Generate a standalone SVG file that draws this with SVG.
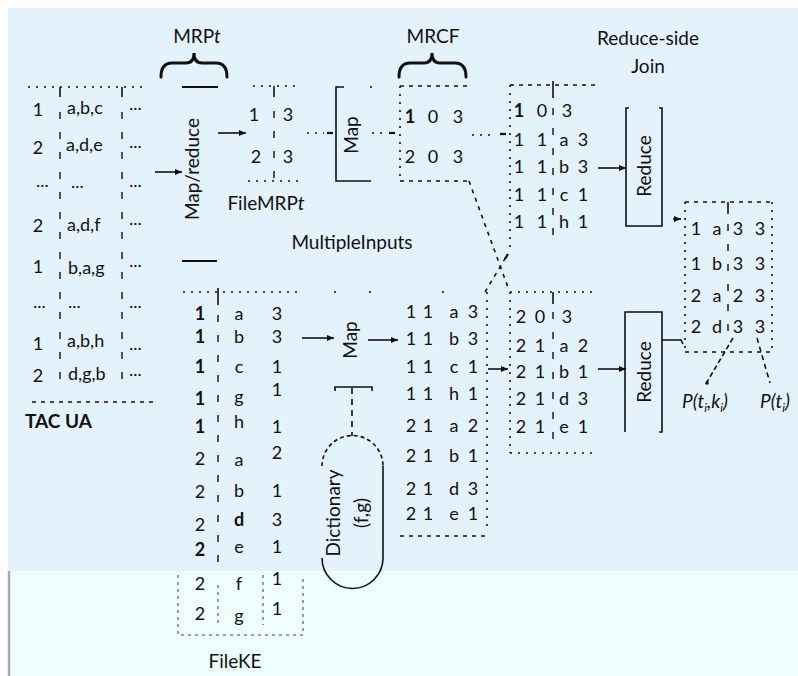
<svg xmlns="http://www.w3.org/2000/svg" width="798" height="676" viewBox="0 0 798 676">
  <defs>
    <marker id="arrow" markerUnits="userSpaceOnUse" markerWidth="8" markerHeight="7" refX="7" refY="3.5" orient="auto">
      <path d="M0,0.5 L7,3.5 L0,6.5 z" fill="#111"/>
    </marker>
    <style>
      text { font-family: Lato, "Liberation Sans", sans-serif; fill: #111; }
      .lbl { font-size: 19px; }
      .cell { font-size: 18px; text-anchor: middle; }
      .cl { font-size: 18px; }
      .b { font-weight: bold; }
      .rot { font-size: 19px; text-anchor: middle; }
      .solid { stroke: #111; stroke-width: 1.6; fill: none; }
      .thick { stroke: #111; stroke-width: 2.2; fill: none; }
      .dot { stroke: #111; stroke-width: 1.6; fill: none; stroke-dasharray: 2 6; }
      .dash { stroke: #111; stroke-width: 1.6; fill: none; stroke-dasharray: 4 5; }
      .vdash { stroke: #111; stroke-width: 1.4; fill: none; stroke-dasharray: 7 13; }
      .gray { stroke: #7d8684; stroke-width: 1.6; fill: none; stroke-dasharray: 3 4; }
      .brace { stroke: #111; stroke-width: 3; fill: none; stroke-linecap: round; }
    </style>
  </defs>

  <!-- backdrop -->
  <rect x="0" y="0" width="798" height="676" fill="#ffffff"/>
  <rect x="8" y="8" width="790" height="563" fill="#e4f2fc"/>
  <rect x="8" y="571" width="790" height="105" fill="#effefe"/>
  <line x1="9" y1="571" x2="9" y2="676" stroke="#a3aeab" stroke-width="2.5"/>

  <!-- headings -->
  <g id="headings">
    <text class="lbl" x="197" y="43" text-anchor="middle">MRP<tspan font-style="italic">t</tspan></text>
    <path class="brace" d="M161,77 Q161,63 172,63 L186,63 Q194,63 194,53 Q194,63 202,63 L216,63 Q227,63 227,77"/>
    <text class="lbl" x="433" y="43" text-anchor="middle">MRCF</text>
    <path class="brace" d="M399,77 Q399,63 410,63 L424,63 Q432,63 432,53 Q432,63 440,63 L455,63 Q466,63 466,77"/>
    <text class="lbl" x="648" y="45" text-anchor="middle">Reduce-side</text>
    <text class="lbl" x="648" y="73" text-anchor="middle">Join</text>
    <text class="lbl" x="352" y="249" text-anchor="middle">MultipleInputs</text>
  </g>

  <!-- input table TAC UA -->
  <g id="tac-ua">
    <line class="dot" x1="28" y1="87" x2="148" y2="87"/>
    <line class="solid" x1="60" y1="87" x2="60" y2="97"/>
    <line class="solid" x1="122" y1="87" x2="122" y2="97"/>
    <line class="vdash" x1="60" y1="112" x2="60" y2="392"/>
    <line class="vdash" x1="122" y1="112" x2="122" y2="392"/>
    <line class="dash" x1="32" y1="402" x2="154" y2="402"/>
    <text class="cell" x="38" y="116">1</text><text class="cl" x="67" y="114">a,b,c</text><text class="cl" x="129" y="110">...</text>
    <text class="cell" x="38" y="154">2</text><text class="cl" x="66" y="151">a,d,e</text><text class="cl" x="129" y="148">...</text>
    <text class="cl" x="36" y="187">...</text><text class="cl" x="71" y="188">...</text><text class="cl" x="129" y="187">...</text>
    <text class="cell" x="38" y="232">2</text><text class="cl" x="67" y="231">a,d,f</text><text class="cl" x="129" y="225">...</text>
    <text class="cell" x="38" y="273">1</text><text class="cl" x="68" y="274">b,a,g</text><text class="cl" x="129" y="267">...</text>
    <text class="cl" x="33" y="308">...</text><text class="cl" x="68" y="308">...</text><text class="cl" x="129" y="308">...</text>
    <text class="cell" x="38" y="350">1</text><text class="cl" x="67" y="347">a,b,h</text><text class="cl" x="129" y="350">...</text>
    <text class="cell" x="38" y="382">2</text><text class="cl" x="68" y="380">d,g,b</text><text class="cl" x="129" y="376">...</text>
    <text class="lbl b" x="25" y="428">TAC UA</text>
  </g>

  <!-- Map/reduce job -->
  <g id="map-reduce">
    <line class="thick" x1="182" y1="87" x2="218" y2="87"/>
    <line class="thick" x1="182" y1="261" x2="217" y2="261"/>
    <text class="rot" font-size="20" transform="translate(199,169) rotate(-90)">Map/reduce</text>
  </g>

  <!-- FileMRPt -->
  <g id="file-mrpt">
    <line class="dot" x1="253" y1="86" x2="301" y2="86"/>
    <line class="solid" x1="274" y1="86" x2="274" y2="97"/>
    <line class="vdash" x1="274" y1="111" x2="274" y2="181"/>
    <line class="dot" x1="248" y1="181" x2="304" y2="181"/>
    <text class="cell" x="254" y="121">1</text><text class="cell" x="288" y="121">3</text>
    <text class="cell" x="256" y="163">2</text><text class="cell" x="288" y="163">3</text>
    <text class="lbl" x="266" y="210" text-anchor="middle">FileMRP<tspan font-style="italic">t</tspan></text>
  </g>

  <!-- first Map -->
  <g id="map-1">
    <path class="solid" d="M344,87 L336,87 L336,181 L371,181"/>
    <circle cx="371" cy="87" r="1" fill="#111"/>
    <text class="rot" transform="translate(358,135) rotate(-90)">Map</text>
  </g>

  <!-- MRCF -->
  <g id="mrcf">
    <line class="dash" x1="400" y1="86" x2="470" y2="86"/>
    <line class="dot" x1="400" y1="86" x2="400" y2="181"/>
    <line class="dash" x1="400" y1="181" x2="470" y2="181"/>
    <text class="cell b" x="410" y="123">1</text><text class="cell" x="433" y="123">0</text><text class="cell" x="458" y="123">3</text>
    <text class="cell" x="410" y="163">2</text><text class="cell" x="433" y="163">0</text><text class="cell" x="458" y="163">3</text>
  </g>

  <!-- reduce-side input, key 1 -->
  <g id="join-table-1">
    <line class="dash" x1="510" y1="85" x2="597" y2="85"/>
    <line class="dot" x1="510" y1="85" x2="510" y2="249"/>
    <line class="solid" x1="553" y1="81" x2="553" y2="98"/>
    <line class="vdash" x1="553" y1="108" x2="553" y2="248"/>
    <text class="cell b" x="519" y="117">1</text><text class="cell" x="542" y="117">0</text><text class="cell" x="567" y="117">3</text>
    <text class="cell" x="519" y="146">1</text><text class="cell" x="542" y="146">1</text><text class="cell" x="564" y="146">a</text><text class="cell" x="583" y="146">3</text>
    <text class="cell" x="519" y="173">1</text><text class="cell" x="542" y="173">1</text><text class="cell" x="564" y="173">b</text><text class="cell" x="583" y="173">3</text>
    <text class="cell" x="519" y="201">1</text><text class="cell" x="542" y="201">1</text><text class="cell" x="564" y="201">c</text><text class="cell" x="583" y="201">1</text>
    <text class="cell" x="519" y="228">1</text><text class="cell" x="542" y="228">1</text><text class="cell" x="564" y="228">h</text><text class="cell" x="583" y="228">1</text>
  </g>

  <!-- first Reduce -->
  <g id="reduce-1">
    <path class="solid" d="M629,108 L626,108 L626,226 L662,226 L662,108 L659,108"/>
    <text class="rot" transform="translate(651,166) rotate(-90)">Reduce</text>
  </g>

  <!-- joined result -->
  <g id="result">
    <line class="dash" x1="685" y1="202" x2="772" y2="202"/>
    <line class="dot" x1="685" y1="202" x2="685" y2="352"/>
    <line class="dot" x1="772" y1="202" x2="772" y2="352"/>
    <line class="dash" x1="685" y1="352" x2="772" y2="352"/>
    <line class="solid" x1="728" y1="202" x2="728" y2="214"/>
    <line class="vdash" x1="728" y1="224" x2="728" y2="340"/>
    <text class="cell" x="696" y="235">1</text><text class="cell" x="717" y="235">a</text><text class="cell" x="738" y="235">3</text><text class="cell" x="760" y="235">3</text>
    <text class="cell" x="696" y="270">1</text><text class="cell" x="717" y="270">b</text><text class="cell" x="738" y="270">3</text><text class="cell" x="760" y="270">3</text>
    <text class="cell" x="696" y="302">2</text><text class="cell" x="717" y="302">a</text><text class="cell" x="738" y="302">2</text><text class="cell" x="760" y="302">3</text>
    <text class="cell" x="696" y="333">2</text><text class="cell" x="717" y="333">d</text><text class="cell" x="738" y="333">3</text><text class="cell" x="760" y="333">3</text>
    <text class="lbl" x="682" y="408" font-style="italic">P(t<tspan font-size="12" dy="4">i</tspan><tspan dy="-4">,k</tspan><tspan font-size="12" dy="4">i</tspan><tspan dy="-4">)</tspan></text>
    <text class="lbl" x="760" y="408" font-style="italic">P(t<tspan font-size="12" dy="4">i</tspan><tspan dy="-4">)</tspan></text>
  </g>

  <!-- FileKE -->
  <g id="file-ke">
    <line class="dot" x1="183" y1="292" x2="302" y2="292"/>
    <line class="solid" x1="218" y1="288" x2="218" y2="305"/>
    <line class="vdash" x1="218" y1="315" x2="218" y2="572"/>
    <text class="cell b" x="200" y="320">1</text><text class="cell" x="239" y="320">a</text><text class="cell" x="277" y="320">3</text>
    <text class="cell b" x="200" y="343">1</text><text class="cell" x="239" y="343">b</text><text class="cell" x="277" y="343">3</text>
    <text class="cell b" x="200" y="373">1</text><text class="cell" x="239" y="373">c</text><text class="cell" x="277" y="373">1</text>
    <text class="cell b" x="200" y="405">1</text><text class="cell" x="239" y="403">g</text><text class="cell" x="277" y="396">1</text>
    <text class="cell b" x="200" y="433">1</text><text class="cell" x="239" y="428">h</text><text class="cell" x="277" y="433">1</text>
    <text class="cell" x="200" y="465">2</text><text class="cell" x="239" y="466">a</text><text class="cell" x="277" y="459">2</text>
    <text class="cell" x="200" y="498">2</text><text class="cell" x="239" y="497">b</text><text class="cell" x="277" y="497">1</text>
    <text class="cell" x="200" y="531">2</text><text class="cell b" x="239" y="526">d</text><text class="cell" x="277" y="526">3</text>
    <text class="cell b" x="200" y="556">2</text><text class="cell" x="239" y="553">e</text><text class="cell" x="277" y="553">1</text>
    <text class="cell" x="200" y="590">2</text><text class="cell" x="239" y="590">f</text><text class="cell" x="277" y="585">1</text>
    <text class="cell" x="200" y="620">2</text><text class="cell" x="239" y="622">g</text><text class="cell" x="277" y="615">1</text>
    <path class="gray" d="M178,575 L178,635 L303,635 L303,577"/>
    <line class="gray" x1="218" y1="585" x2="218" y2="625" stroke-dasharray="8 10"/>
    <line class="gray" x1="263" y1="575" x2="263" y2="625" stroke-dasharray="8 10"/>
    <text class="lbl" x="235" y="668" text-anchor="middle">FileKE</text>
  </g>

  <!-- second Map -->
  <g id="map-2">
    <circle cx="335" cy="292" r="1" fill="#111"/>
    <circle cx="370" cy="292" r="1" fill="#111"/>
    <path class="solid" d="M335,391 L335,387 L372,387 L372,391"/>
    <text class="rot" transform="translate(357,340) rotate(-90)">Map</text>
  </g>

  <!-- Dictionary -->
  <g id="dictionary">
    <path class="solid" stroke-dasharray="4 3" d="M322,466 A30.5,30.5 0 0 1 383,466"/>
    <line class="solid" x1="383" y1="466" x2="383" y2="558"/>
    <path class="solid" d="M322,558 A30.5,30.5 0 0 0 383,558"/>
    <text class="rot" transform="translate(340,513) rotate(-90)">Dictionary</text>
    <text class="rot" transform="translate(368,513) rotate(-90)">(f,g)</text>
  </g>

  <!-- map output keyed by (t, key) -->
  <g id="map-output">
    <circle cx="443" cy="292" r="1" fill="#111"/>
    <line class="dot" x1="487" y1="292" x2="487" y2="528"/>
    <line class="dash" x1="400" y1="536" x2="488" y2="536"/>
    <text class="cell" x="411" y="318">1</text><text class="cell" x="428" y="318">1</text><text class="cell" x="454" y="318">a</text><text class="cell" x="473" y="318">3</text>
    <text class="cell" x="411" y="345">1</text><text class="cell" x="428" y="345">1</text><text class="cell" x="454" y="345">b</text><text class="cell" x="473" y="345">3</text>
    <text class="cell" x="411" y="373">1</text><text class="cell" x="428" y="373">1</text><text class="cell" x="454" y="373">c</text><text class="cell" x="473" y="373">1</text>
    <text class="cell" x="411" y="400">1</text><text class="cell" x="428" y="400">1</text><text class="cell" x="454" y="400">h</text><text class="cell" x="473" y="400">1</text>
    <text class="cell" x="411" y="432">2</text><text class="cell" x="428" y="432">1</text><text class="cell" x="454" y="432">a</text><text class="cell" x="473" y="432">2</text>
    <text class="cell" x="411" y="462">2</text><text class="cell" x="428" y="462">1</text><text class="cell" x="454" y="462">b</text><text class="cell" x="473" y="462">1</text>
    <text class="cell" x="411" y="495">2</text><text class="cell" x="428" y="495">1</text><text class="cell" x="454" y="495">d</text><text class="cell" x="473" y="495">3</text>
    <text class="cell" x="411" y="520">2</text><text class="cell" x="428" y="520">1</text><text class="cell" x="454" y="520">e</text><text class="cell" x="473" y="520">1</text>
  </g>

  <!-- reduce-side input, key 2 -->
  <g id="join-table-2">
    <line class="dot" x1="510" y1="292" x2="593" y2="292"/>
    <line class="dot" x1="510" y1="292" x2="510" y2="453"/>
    <line class="dot" x1="510" y1="453" x2="593" y2="453"/>
    <line class="solid" x1="553" y1="292" x2="553" y2="304"/>
    <line class="vdash" x1="553" y1="312" x2="553" y2="445"/>
    <text class="cell" x="521" y="323">2</text><text class="cell" x="540" y="323">0</text><text class="cell" x="567" y="323">3</text>
    <text class="cell" x="521" y="352">2</text><text class="cell" x="540" y="352">1</text><text class="cell" x="564" y="352">a</text><text class="cell" x="583" y="352">2</text>
    <text class="cell" x="521" y="378">2</text><text class="cell" x="540" y="378">1</text><text class="cell" x="564" y="378">b</text><text class="cell" x="583" y="378">1</text>
    <text class="cell" x="521" y="405">2</text><text class="cell" x="540" y="405">1</text><text class="cell" x="564" y="405">d</text><text class="cell" x="583" y="405">3</text>
    <text class="cell" x="521" y="433">2</text><text class="cell" x="540" y="433">1</text><text class="cell" x="564" y="433">e</text><text class="cell" x="583" y="433">1</text>
  </g>

  <!-- second Reduce -->
  <g id="reduce-2">
    <path class="solid" d="M625,432 L625,312 L662,312 L662,432 L659,432"/>
    <text class="rot" transform="translate(651,372) rotate(-90)">Reduce</text>
  </g>

  <!-- connectors -->
  <g id="connectors">
    <line class="solid" x1="155" y1="172" x2="182" y2="172" marker-end="url(#arrow)"/>
    <line class="solid" x1="218" y1="133" x2="246" y2="133" marker-end="url(#arrow)"/>
    <line class="dot" x1="307" y1="133" x2="324" y2="133"/>
    <line class="thick" x1="327" y1="133" x2="333" y2="133"/>
    <line class="dot" x1="372" y1="133" x2="386" y2="133"/>
    <line class="thick" x1="389" y1="133" x2="395" y2="133"/>
    <line class="dot" x1="472" y1="135" x2="496" y2="135"/>
    <line class="thick" x1="500" y1="134" x2="506" y2="134"/>
    <line class="dash" x1="469" y1="181" x2="509" y2="290"/>
    <line class="dash" x1="485" y1="292" x2="506" y2="257"/>
    <line class="thick" x1="505" y1="259" x2="508" y2="254"/>
    <line class="solid" x1="598" y1="168" x2="626" y2="168" marker-end="url(#arrow)"/>
    <line class="solid" x1="673" y1="219" x2="681" y2="219" marker-end="url(#arrow)"/>
    <path class="solid" d="M662,340 L681,340 L683,344"/>
    <line class="solid" x1="302" y1="338" x2="334" y2="338" marker-end="url(#arrow)"/>
    <line class="solid" x1="368" y1="340" x2="398" y2="340" marker-end="url(#arrow)"/>
    <line class="solid" stroke-dasharray="6 5" x1="352" y1="388" x2="352" y2="436"/>
    <line class="solid" x1="488" y1="369" x2="508" y2="369" marker-end="url(#arrow)"/>
    <line class="solid" x1="598" y1="369" x2="626" y2="369" marker-end="url(#arrow)"/>
    <line class="solid" stroke-dasharray="5 3" x1="733" y1="338" x2="707" y2="382"/>
    <circle cx="707" cy="383" r="1.8" fill="#111"/>
    <line class="solid" stroke-dasharray="5 4" x1="757" y1="338" x2="770" y2="383"/>
  </g>
</svg>
